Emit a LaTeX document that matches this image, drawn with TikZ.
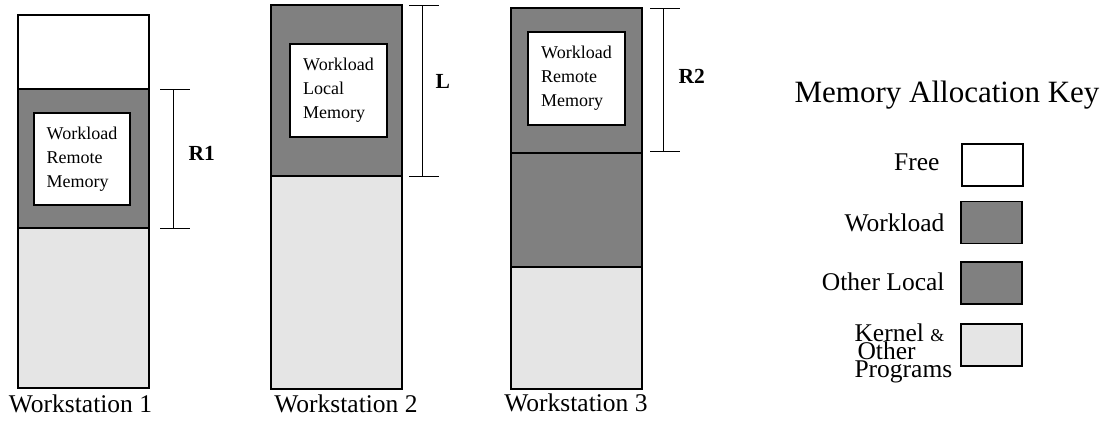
\documentclass[tikz,border=0pt]{standalone}
\usepackage{fontspec}
\setmainfont{Liberation Serif}
\definecolor{memdark}{HTML}{808080}
\definecolor{memlight}{HTML}{E5E5E5}
\begin{document}
\begin{tikzpicture}[x=1pt,y=-1pt, every node/.style={font=\fontsize{25.5}{25.5}\selectfont},
  seg/.style={draw,line width=1.5pt,inner sep=0pt,minimum width=131pt},
  memfree/.style={seg,fill=white}, memwork/.style={seg,fill=memdark}, memkern/.style={seg,fill=memlight},
  inbox/.style={draw,line width=1.5pt,fill=white,inner sep=0pt,minimum width=97pt,minimum height=93pt,align=left,font=\fontsize{18}{24}\selectfont},
  keybox/.style={draw,line width=1.5pt,minimum width=61pt,minimum height=42pt},
  span/.style={line width=1pt},
  spanlab/.style={anchor=base west,font=\bfseries\fontsize{21.5}{21.5}\selectfont}]
\useasboundingbox (0,0) rectangle (1109,429);
\node[memfree,minimum height=74pt] (f1) at (83.5,52) {};
\node[memwork,minimum height=139pt] (w1) at (83.5,158.5) {};
\node[memkern,minimum height=160pt] (k1) at (83.5,308) {};
\node[inbox,minimum width=96pt,minimum height=92pt] (m1) at (82,159) {Workload\\Remote\\Memory};
\coordinate (r1a) at (173,89); \coordinate (r1b) at (173,228);
\draw[span] (r1a) -- (r1b);
\draw[span] ([xshift=-13pt]r1a) -- ([xshift=17pt]r1a); \draw[span] ([xshift=-13pt]r1b) -- ([xshift=17pt]r1b);
\node[spanlab] (r1) at (185,160) {R1};
\node[anchor=base] (ws1) at (80.5,412) {Workstation 1};
\node[memwork,minimum height=171pt] (w2) at (336.5,90.5) {};
\node[memkern,minimum height=213pt] (k2) at (336.5,282.5) {};
\node[inbox] (m2) at (338.5,90.5) {Workload\\Local\\Memory};
\coordinate (la) at (422,5); \coordinate (lb) at (422,176);
\draw[span] (la) -- (lb);
\draw[span] ([xshift=-13pt]la) -- ([xshift=17pt]la); \draw[span] ([xshift=-13pt]lb) -- ([xshift=17pt]lb);
\node[spanlab] (l) at (432,88) {L};
\node[anchor=base] (ws2) at (346,412) {Workstation 2};
\node[memwork,minimum height=145pt] (w3) at (576.5,80.5) {};
\node[memwork,minimum height=114pt] (o3) at (576.5,210) {};
\node[memkern,minimum height=122pt] (k3) at (576.5,328) {};
\node[inbox] (m3) at (576.5,78.5) {Workload\\Remote\\Memory};
\coordinate (r2a) at (663,8); \coordinate (r2b) at (663,151);
\draw[span] (r2a) -- (r2b);
\draw[span] ([xshift=-13pt]r2a) -- ([xshift=17pt]r2a); \draw[span] ([xshift=-13pt]r2b) -- ([xshift=17pt]r2b);
\node[spanlab] (r2) at (675,83) {R2};
\node[anchor=base] (ws3) at (576,411) {Workstation 3};
\node[anchor=base,font=\fontsize{31}{31}\selectfont] (keyt) at (947,102) {Memory Allocation Key};
\node[keybox,fill=white] (kfree) at (992.5,165) {};
\node[keybox,fill=memdark] (kwork) at (991.5,222.5) {};
\node[keybox,fill=memdark] (kother) at (991.5,283) {};
\node[keybox,fill=memlight] (kkern) at (991.5,345) {};
\node[anchor=base east] (lfree) at (943,170) {Free};
\node[anchor=base east] (lwork) at (948,231) {Workload};
\node[anchor=base east] (lother) at (948,290) {Other Local};
\node[anchor=base west,align=left,font=\fontsize{25.5}{18}\selectfont] (lkern) at (851,377) {Kernel {\fontsize{18}{18}\selectfont\&}\\\hspace{3pt}Other\\Programs};
\end{tikzpicture}
\end{document}
